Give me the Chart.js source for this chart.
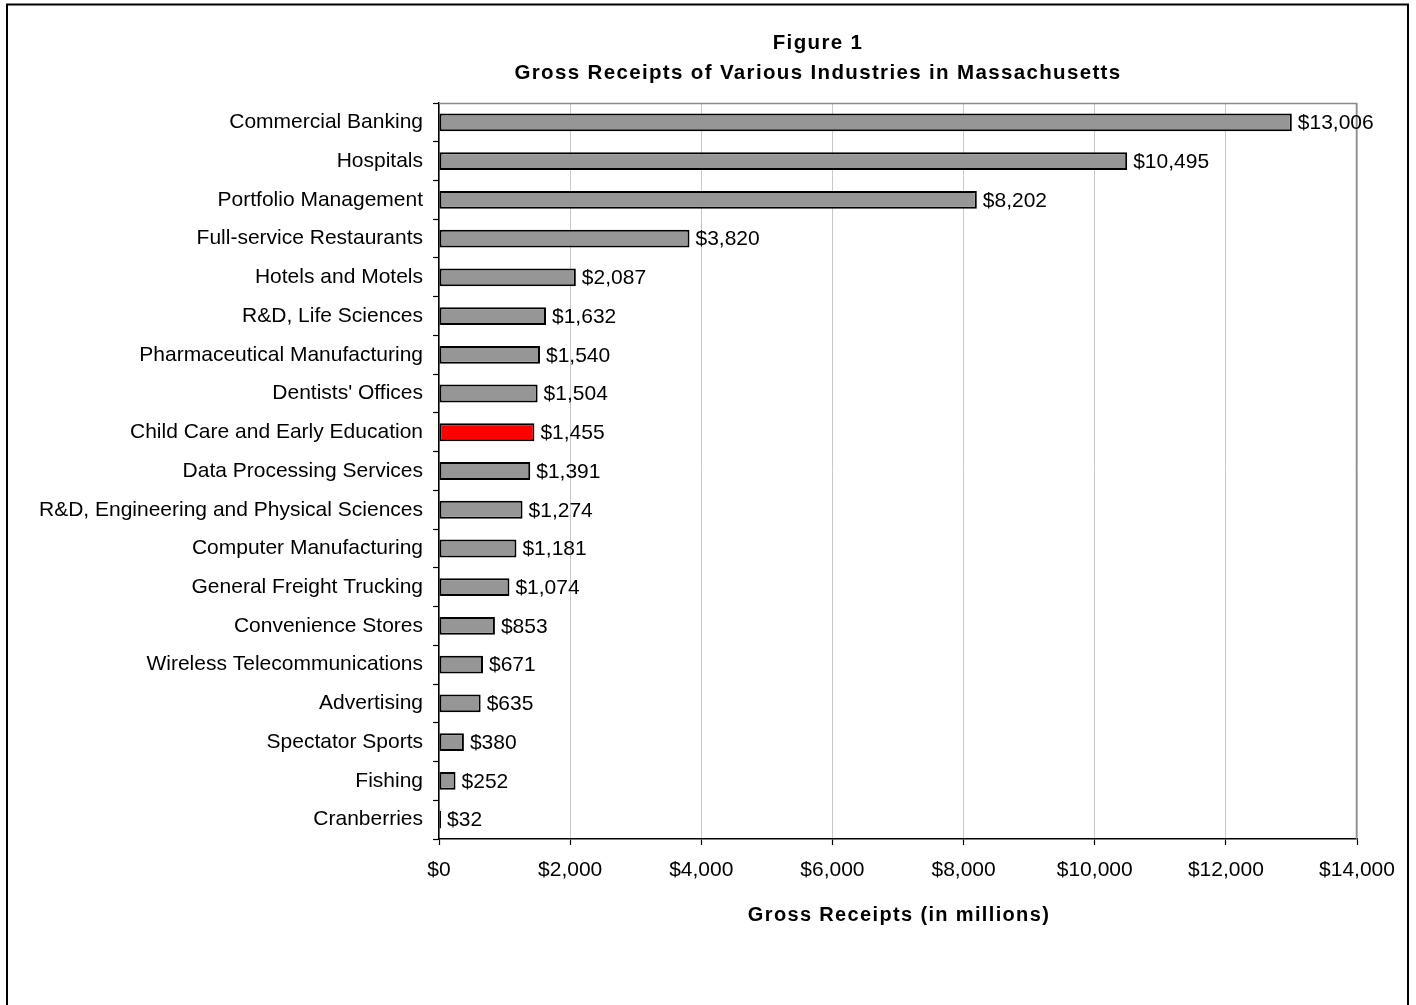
<!DOCTYPE html>
<html>
<head>
<meta charset="utf-8">
<script src="https://cdn.jsdelivr.net/npm/chart.js@4/dist/chart.umd.min.js"></script>
<style>
  html, body { margin: 0; padding: 0; background: #fff; }
  #wrap { width: 1416px; height: 1005px; position: relative; }
</style>
</head>
<body>
<div id="wrap"><canvas id="c" width="1416" height="1005"></canvas></div>
<script>
const categories = [
  "Commercial Banking",
  "Hospitals",
  "Portfolio Management",
  "Full-service Restaurants",
  "Hotels and Motels",
  "R&D, Life Sciences",
  "Pharmaceutical Manufacturing",
  "Dentists' Offices",
  "Child Care and Early Education",
  "Data Processing Services",
  "R&D, Engineering and Physical Sciences",
  "Computer Manufacturing",
  "General Freight Trucking",
  "Convenience Stores",
  "Wireless Telecommunications",
  "Advertising",
  "Spectator Sports",
  "Fishing",
  "Cranberries"
];
const receipts = [13006, 10495, 8202, 3820, 2087, 1632, 1540, 1504, 1455, 1391, 1274, 1181, 1074, 853, 671, 635, 380, 252, 32];
const highlighted = "Child Care and Early Education";
const xTickValues = [0, 2000, 4000, 6000, 8000, 10000, 12000, 14000];
const titleLines = ["Figure 1", "Gross Receipts of Various Industries in Massachusetts"];
const xAxisTitle = "Gross Receipts (in millions)";

const FONT = "'Liberation Sans', Arial, Helvetica, sans-serif";
const fmt = v => '$' + v.toLocaleString('en-US');

const decorPlugin = {
  id: 'decor',
  beforeDatasetsDraw(chart) {
    const ctx = chart.ctx, a = chart.chartArea;
    ctx.save();
    ctx.strokeStyle = '#8c8c8c';
    ctx.lineWidth = 1.5;
    ctx.beginPath();
    ctx.moveTo(a.left, a.top + 0.5);
    ctx.lineTo(a.right - 0.5, a.top + 0.5);
    ctx.lineTo(a.right - 0.5, a.bottom);
    ctx.stroke();
    ctx.restore();
  },
  afterDatasetsDraw(chart) {
    const ctx = chart.ctx;
    const meta = chart.getDatasetMeta(0);
    ctx.save();
    ctx.font = '21px ' + FONT;
    ctx.fillStyle = '#000';
    ctx.textAlign = 'left';
    ctx.textBaseline = 'middle';
    meta.data.forEach((el, i) => {
      ctx.fillText(fmt(receipts[i]), el.x + 6, el.y + 1);
    });
    ctx.restore();
  },
  afterDraw(chart) {
    const ctx = chart.ctx, a = chart.chartArea;
    ctx.save();
    // outer frame
    ctx.strokeStyle = '#000';
    ctx.lineWidth = 2;
    ctx.strokeRect(7, 4.5, 1401, 1100);
    // titles
    ctx.fillStyle = '#000';
    ctx.font = 'bold 20.5px ' + FONT;
    ctx.textAlign = 'center';
    ctx.textBaseline = 'middle';
    try { ctx.letterSpacing = '1.35px'; } catch (e) {}
    ctx.fillText(titleLines[0], 818, 43);
    ctx.fillText(titleLines[1], 818, 73);
    ctx.font = 'bold 20px ' + FONT;
    ctx.fillText(xAxisTitle, (a.left + a.right) / 2 + 1, 915);
    ctx.restore();
  }
};

new Chart(document.getElementById('c'), {
  type: 'bar',
  data: {
    labels: categories,
    datasets: [{
      data: receipts,
      backgroundColor: categories.map(c => c === highlighted ? '#ff0000' : '#969696'),
      borderColor: '#000',
      borderWidth: 2,
      borderSkipped: false,
      barPercentage: 0.46,
      categoryPercentage: 1.0
    }]
  },
  options: {
    indexAxis: 'y',
    responsive: false,
    animation: false,
    devicePixelRatio: 1,
    layout: { padding: { left: 0, right: 59, top: 103, bottom: 66 } },
    plugins: {
      legend: { display: false },
      title: { display: false },
      tooltip: { enabled: false }
    },
    scales: {
      x: {
        type: 'linear',
        min: 0,
        max: 14000,
        afterBuildTicks(scale) { scale.ticks = xTickValues.map(v => ({ value: v })); },
        afterFit(scale) { scale.height = 100; },
        ticks: {
          callback: v => fmt(v),
          color: '#000',
          font: { family: FONT, size: 21 },
          padding: 13,
          maxRotation: 0,
          autoSkip: false
        },
        grid: {
          color: '#c8c8c8',
          lineWidth: 1,
          tickLength: 6,
          tickColor: '#000',
          tickWidth: 1.2
        },
        border: { color: '#000', width: 1.5 }
      },
      y: {
        type: 'category',
        afterFit(scale) { scale.width = 439; },
        ticks: {
          color: '#000',
          font: { family: FONT, size: 21 },
          padding: 10,
          autoSkip: false
        },
        grid: {
          offset: true,
          drawOnChartArea: false,
          tickLength: 6,
          tickColor: '#000',
          tickWidth: 1.2
        },
        border: { color: '#000', width: 1.5 }
      }
    }
  },
  plugins: [decorPlugin]
});
</script>
</body>
</html>
